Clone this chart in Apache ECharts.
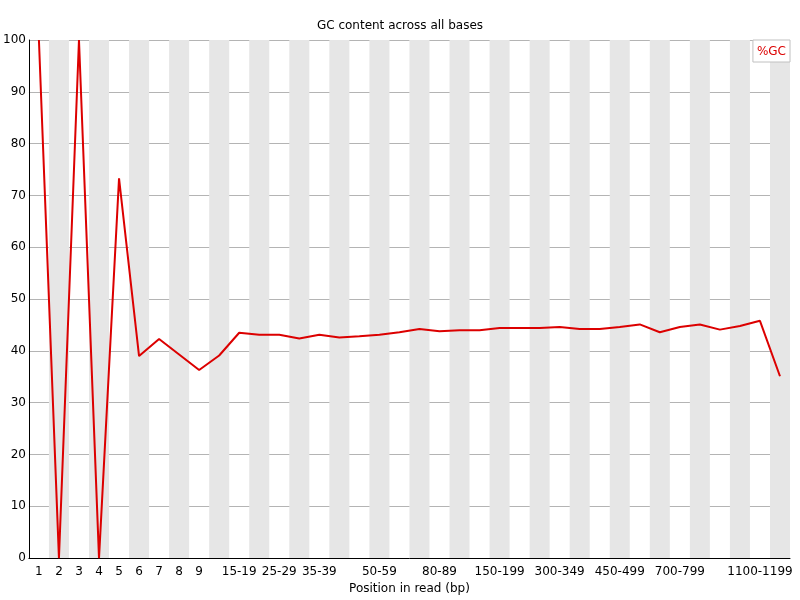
<!DOCTYPE html>
<html><head><meta charset="utf-8">
<script src="https://cdn.jsdelivr.net/npm/echarts@6/dist/echarts.min.js"></script>
<style>html,body{margin:0;padding:0;background:#fff}#c{width:800px;height:600px}</style>
</head><body><div id="c"></div>
<script>
var categories = ['1','2','3','4','5','6','7','8','9','10-14','15-19','20-24','25-29','30-34','35-39','40-44','45-49','50-59','60-69','70-79','80-89','90-99','100-149','150-199','200-249','250-299','300-349','350-399','400-449','450-499','500-599','600-699','700-799','800-899','900-999','1000-1099','1100-1199','1200-1299'];
var gcValues = [100,0,100,0,73.3,39.0,42.3,39.3,36.3,39.1,43.5,43.1,43.1,42.4,43.1,42.6,42.8,43.1,43.6,44.2,43.8,44.0,44.0,44.4,44.4,44.4,44.6,44.2,44.2,44.6,45.1,43.6,44.6,45.1,44.1,44.8,45.8,35.1];
var shownLabels = ['1','2','3','4','5','6','7','8','9','15-19','25-29','35-39','50-59','80-89','150-199','300-349','450-499','700-799','1100-1199'];
var yTicks = [0,10,20,30,40,50,60,70,80,90,100];

var chart = echarts.init(document.getElementById('c'), null, {renderer:'canvas'});
var font = 'DejaVu Sans';
chart.setOption({
  animation:false,
  backgroundColor:'#fff',
  title:{text:'GC content across all bases',left:'center',top:15,textStyle:{fontFamily:font,fontSize:12,fontWeight:'normal',color:'#000'}},
  legend:{data:['%GC'],right:10,top:40,icon:'none',itemWidth:0,itemGap:0,padding:[5,4,4,4],
    borderColor:'#c0c0c0',borderWidth:1,backgroundColor:'#fff',borderRadius:0,
    textStyle:{fontFamily:font,fontSize:12,color:'#dc0000',padding:[0,0,0,-5]}},
  grid:{left:28,right:10,top:40,bottom:40,containLabel:false},
  xAxis:{type:'category',data:categories,boundaryGap:true,
    name:'Position in read (bp)',nameLocation:'middle',nameGap:24,
    nameTextStyle:{fontFamily:font,fontSize:12,color:'#000'},
    axisLine:{lineStyle:{color:'#000',width:1}},axisTick:{show:false},
    axisLabel:{fontFamily:font,fontSize:12,color:'#000',margin:8,
      interval:function(i,v){return shownLabels.indexOf(v)>=0;}},
    splitLine:{show:false},
    splitArea:{show:true,interval:0,areaStyle:{color:['rgba(255,255,255,0)','#e6e6e6']}}},
  yAxis:{type:'value',min:yTicks[0],max:yTicks[yTicks.length-1],interval:10,
    axisLine:{show:true,lineStyle:{color:'#000',width:1}},axisTick:{show:false},
    axisLabel:{fontFamily:font,fontSize:12,color:'#000',margin:3},
    splitLine:{lineStyle:{color:'#b4b4b4',width:1}}},
  series:[{name:'%GC',type:'line',data:gcValues,symbol:'none',
    lineStyle:{color:'#dc0000',width:2},itemStyle:{color:'#dc0000'},z:5}]
});
</script></body></html>
